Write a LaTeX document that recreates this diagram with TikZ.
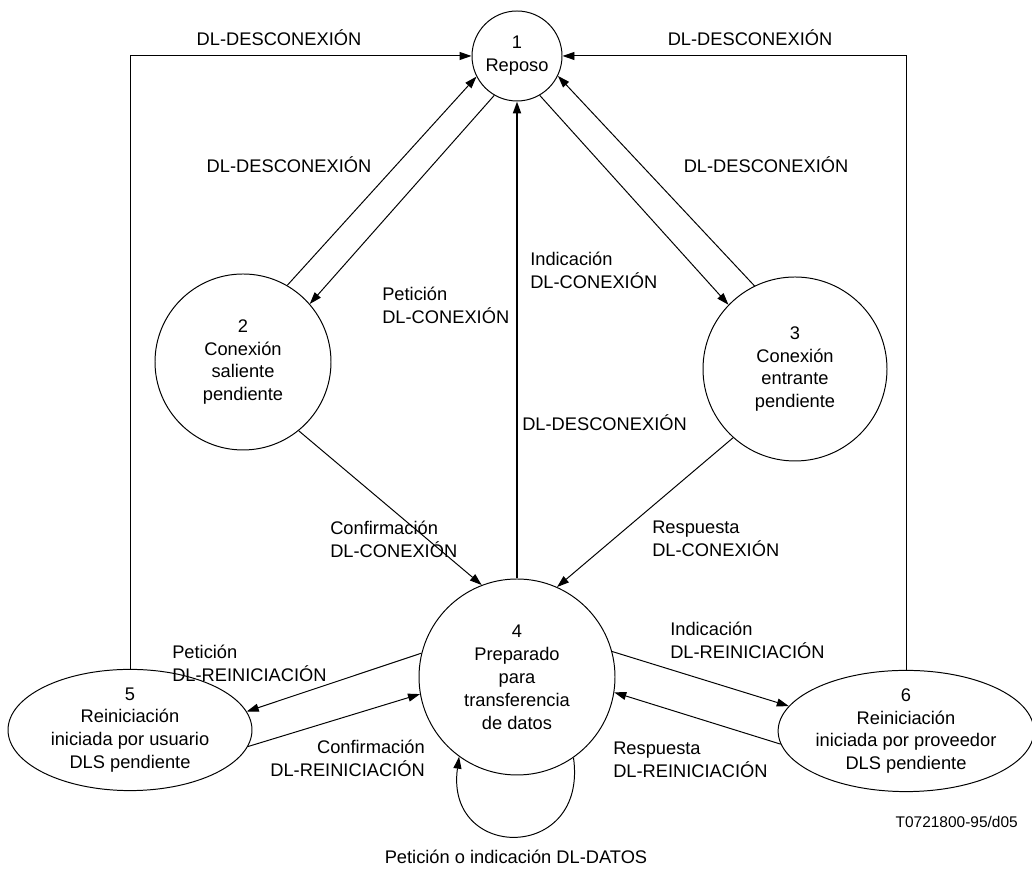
\documentclass[tikz,border=0pt]{standalone}
\usepackage{fontspec}
\setmainfont{Liberation Sans}
\usepackage{tikz}
\usetikzlibrary{arrows.meta,shapes.geometric}

\begin{document}
\begin{tikzpicture}[
  font=\fontsize{13}{16.3}\selectfont,
  every node/.style={align=center},
  state/.style={draw, circle, inner sep=0pt, line width=0.7pt},
  reset/.style={draw, ellipse, inner sep=0pt, minimum width=6.1cm, minimum height=3.03cm,
                line width=0.7pt},
  lbl/.style={inner sep=0pt, align=left},
  lblr/.style={inner sep=0pt, align=right},
  arr/.style={-{Triangle[length=0.3cm,width=0.2cm]}, black, line width=0.7pt},
  arrthick/.style={arr, line width=1.4pt},
]
\useasboundingbox (0,0) rectangle (25.8,21.775);

%% --- States ---
\node[state, minimum size=2.25cm] (n1) at (12.925, 20.375) {1\\Reposo};
\node[state, minimum size=4.4cm]  (n2) at ( 6.075, 12.725) {2\\Conexión\\saliente\\pendiente};
\node[state, minimum size=4.6cm]  (n3) at (19.875, 12.55)  {3\\Conexión\\entrante\\pendiente};
\node[state, minimum size=4.9cm]  (n4) at (12.925,  4.85)  {4\\Preparado\\para\\transferencia\\de datos};
\node[reset] (n5) at ( 3.25, 3.525) {5\\Reiniciación\\iniciada por usuario\\DLS pendiente};
\node[reset] (n6) at (22.65, 3.5)   {6\\Reiniciación\\iniciada por proveedor\\DLS pendiente};

%% --- Transitions to and from state 1 ---
\draw[arr] (n5.north) |- (n1.west);
\draw[arr] (n6.north) |- (n1.east);
\draw[arr] (n2.60)  -- (n1.207);
\draw[arr] (n1.240) -- (n2.41);
\draw[arr] (n1.300) -- (n3.136);
\draw[arr] (n3.116) -- (n1.334);
\draw[arrthick] (n4.north) -- (n1.south);

%% --- Transitions into state 4 ---
\draw[arr] (n2.309) -- (n4.111);
\draw[arr] (n3.228) -- (n4.66);

%% --- Resets ---
\draw[arr] (n4.166) -- (n5.9);
\draw[arr] (n5.352) -- (n4.190);
\draw[arr] (n4.15)  -- (n6.168);
\draw[arr] (n6.186) -- (n4.351);

%% --- Data loop ---
\draw[arr] (n4.305) to[out=-82, in=-98, distance=2.65cm] (n4.234);

%% --- Labels ---
\node (d1) at ( 6.975, 20.825) {DL-DESCONEXIÓN};
\node (d2) at (18.75,  20.825) {DL-DESCONEXIÓN};
\node (d3) at ( 7.225, 17.65)  {DL-DESCONEXIÓN};
\node (d4) at (19.15,  17.65)  {DL-DESCONEXIÓN};
\node[lbl, anchor=west] (d5) at (13.05, 11.2) {DL-DESCONEXIÓN};

\node[lbl, anchor=west] (c1) at ( 9.55, 14.15)  {Petición\\DL-CONEXIÓN};
\node[lbl, anchor=west] (c2) at (13.25, 15.025) {Indicación\\DL-CONEXIÓN};
\node[lbl, anchor=west] (c3) at ( 8.25,  8.3)   {Confirmación\\DL-CONEXIÓN};
\node[lbl, anchor=west] (c4) at (16.3,   8.3)   {Respuesta\\DL-CONEXIÓN};

\node[lbl, anchor=west]  (r1) at ( 4.3,   5.2)   {Petición\\DL-REINICIACIÓN};
\node[lbl, anchor=west]  (r2) at (16.75,  5.775) {Indicación\\DL-REINICIACIÓN};
\node[lblr, anchor=east] (r3) at (10.625, 2.825) {Confirmación\\DL-REINICIACIÓN};
\node[lbl, anchor=west]  (r4) at (15.325, 2.775) {Respuesta\\DL-REINICIACIÓN};

\node (dat) at (12.9, 0.35) {Petición o indicación DL-DATOS};
\node[inner sep=0pt, anchor=east, font=\fontsize{11}{13}\selectfont] (ref) at (25.45, 1.225) {T0721800-95/d05};

\end{tikzpicture}
\end{document}
